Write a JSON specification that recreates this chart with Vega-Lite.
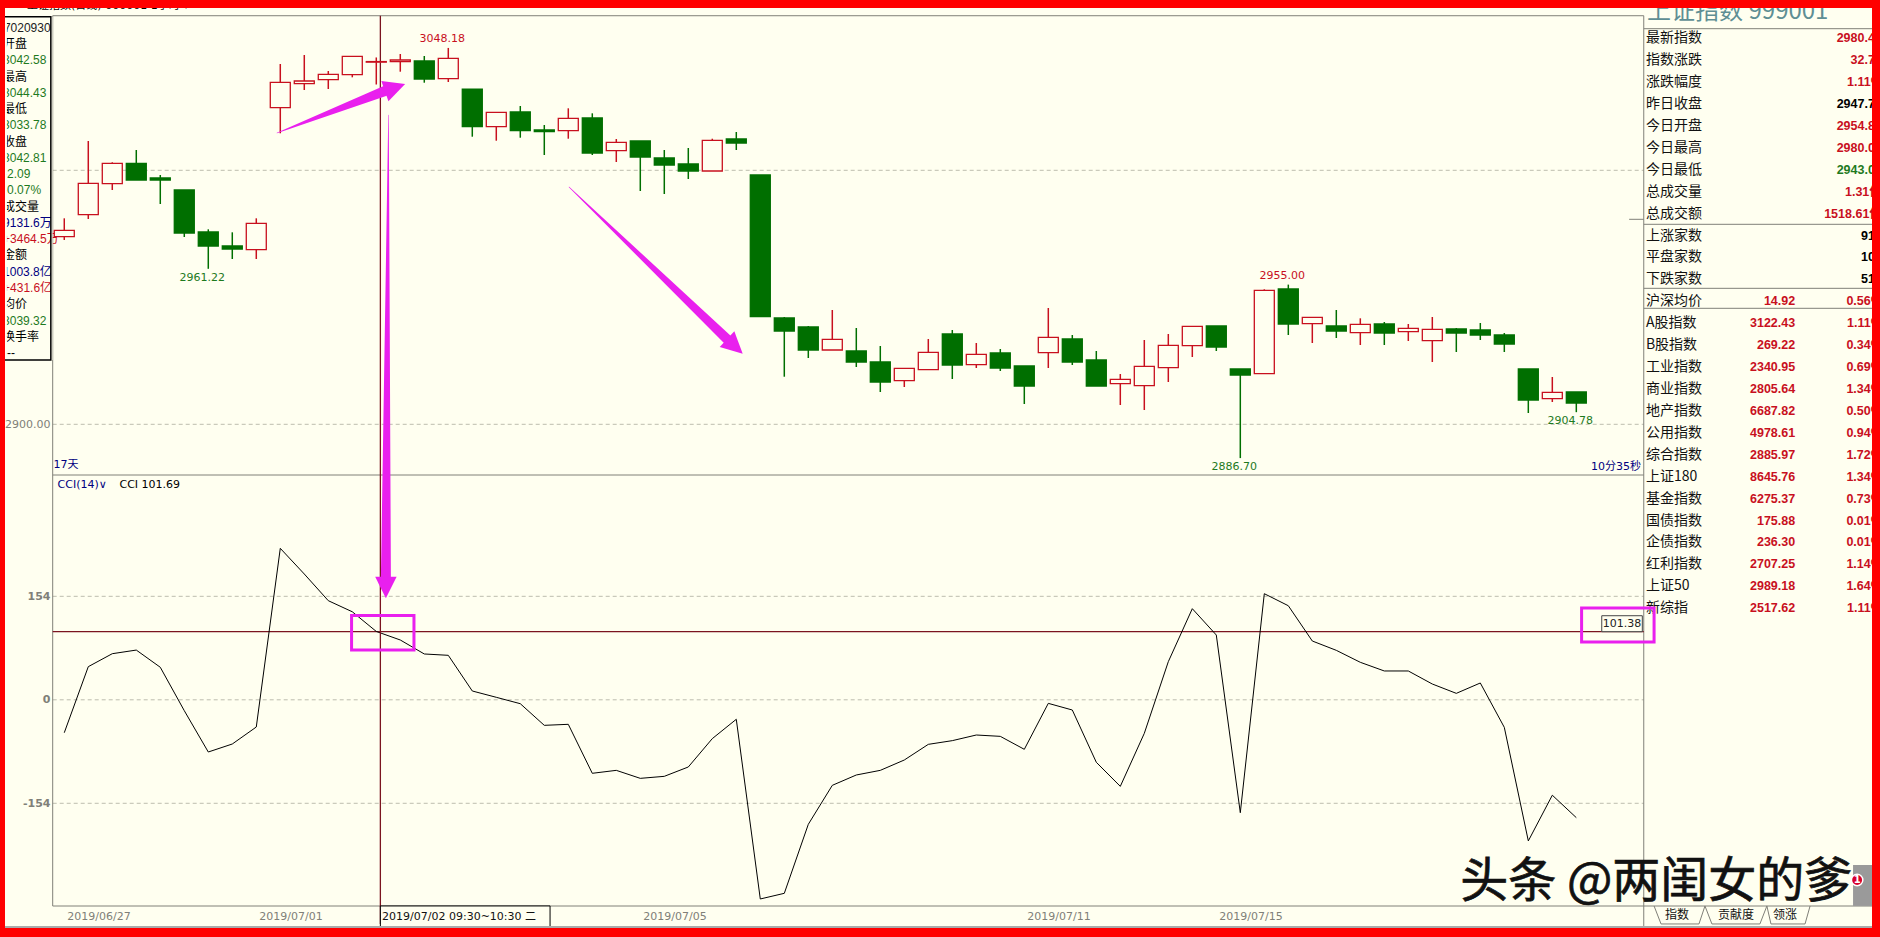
{"$schema":"https://vega.github.io/schema/vega-lite/v6.json","width":1867,"height":920,"autosize":{"type":"none"},"padding":{"left":5,"top":8,"right":8,"bottom":9},"background":"#FF0000","config":{"view":{"fill":"#FFFFF0","stroke":null},"axis":{"title":null},"scale":{"continuousPadding":0}},
"datasets":{"candles":[
{"i":0,"dir":"up","o":2973.86,"c":2976.38,"h":2981.10,"l":2972.56},{"i":1,"dir":"up","o":2982.52,"c":2994.88,"h":3011.54,"l":2980.83},{"i":2,"dir":"up","o":2994.72,"c":3002.76,"h":3003.15,"l":2992.24},{"i":3,"dir":"down","o":3002.76,"c":2996.18,"h":3007.99,"l":2996.18},{"i":4,"dir":"down","o":2996.97,"c":2996.18,"h":2998.15,"l":2986.73},{"i":5,"dir":"down","o":2992.24,"c":2975.31,"h":2992.24,"l":2973.74},{"i":6,"dir":"down","o":2975.71,"c":2970.20,"h":2976.77,"l":2961.22},{"i":7,"dir":"down","o":2970.20,"c":2969.02,"h":2975.59,"l":2965.08},{"i":8,"dir":"up","o":2968.74,"c":2979.13,"h":2981.10,"l":2965.08},{"i":9,"dir":"up","o":3024.64,"c":3034.65,"h":3041.85,"l":3014.57},{"i":10,"dir":"up","o":3034.09,"c":3035.16,"h":3045.39,"l":3031.61},{"i":11,"dir":"up","o":3035.67,"c":3037.80,"h":3039.09,"l":3032.00},{"i":12,"dir":"up","o":3037.64,"c":3044.88,"h":3044.88,"l":3036.61},{"i":13,"dir":"up","o":3042.58,"c":3042.81,"h":3044.43,"l":3033.78},{"i":14,"dir":"up","o":3042.76,"c":3043.42,"h":3045.79,"l":3038.82},{"i":15,"dir":"down","o":3043.03,"c":3035.94,"h":3045.00,"l":3034.49},{"i":16,"dir":"up","o":3036.06,"c":3044.09,"h":3048.18,"l":3034.76},{"i":17,"dir":"down","o":3032.00,"c":3017.16,"h":3032.00,"l":3013.23},{"i":18,"dir":"up","o":3017.16,"c":3022.83,"h":3022.83,"l":3011.65},{"i":19,"dir":"down","o":3022.95,"c":3015.59,"h":3025.31,"l":3012.83},{"i":20,"dir":"down","o":3015.87,"c":3015.20,"h":3017.83,"l":3006.02},{"i":21,"dir":"up","o":3015.59,"c":3020.47,"h":3024.41,"l":3012.44},{"i":22,"dir":"down","o":3020.59,"c":3006.81,"h":3022.44,"l":3006.02},{"i":23,"dir":"up","o":3007.72,"c":3011.02,"h":3012.32,"l":3003.27},{"i":24,"dir":"down","o":3011.54,"c":3005.24,"h":3011.54,"l":2991.85},{"i":25,"dir":"down","o":3004.84,"c":3002.09,"h":3007.99,"l":2990.67},{"i":26,"dir":"down","o":3002.48,"c":2999.72,"h":3008.78,"l":2996.57},{"i":27,"dir":"up","o":2999.72,"c":3011.81,"h":3012.44,"l":2999.72},{"i":28,"dir":"down","o":3012.32,"c":3010.75,"h":3015.08,"l":3007.99},{"i":29,"dir":"down","o":2998.15,"c":2942.36,"h":2998.15,"l":2942.36},{"i":30,"dir":"down","o":2941.85,"c":2936.73,"h":2942.24,"l":2918.74},{"i":31,"dir":"down","o":2938.31,"c":2929.25,"h":2938.70,"l":2926.10},{"i":32,"dir":"up","o":2929.25,"c":2933.46,"h":2945.00,"l":2929.25},{"i":33,"dir":"down","o":2928.86,"c":2924.53,"h":2937.91,"l":2922.56},{"i":34,"dir":"down","o":2924.53,"c":2916.65,"h":2930.83,"l":2912.72},{"i":35,"dir":"up","o":2917.17,"c":2922.05,"h":2922.05,"l":2914.69},{"i":36,"dir":"up","o":2921.50,"c":2928.35,"h":2933.58,"l":2921.50},{"i":37,"dir":"down","o":2935.55,"c":2923.35,"h":2937.13,"l":2917.83},{"i":38,"dir":"up","o":2923.46,"c":2927.56,"h":2932.01,"l":2922.17},{"i":39,"dir":"down","o":2928.07,"c":2922.17,"h":2929.65,"l":2920.98},{"i":40,"dir":"down","o":2922.95,"c":2915.08,"h":2922.95,"l":2907.99},{"i":41,"dir":"up","o":2928.19,"c":2934.25,"h":2945.79,"l":2922.17},{"i":42,"dir":"down","o":2933.58,"c":2924.53,"h":2935.16,"l":2923.35},{"i":43,"dir":"down","o":2925.31,"c":2915.08,"h":2928.86,"l":2915.08},{"i":44,"dir":"up","o":2915.98,"c":2917.72,"h":2919.80,"l":2907.60},{"i":45,"dir":"up","o":2915.20,"c":2922.83,"h":2933.19,"l":2905.63},{"i":46,"dir":"up","o":2922.28,"c":2931.10,"h":2935.55,"l":2916.65},{"i":47,"dir":"up","o":2930.94,"c":2938.58,"h":2938.58,"l":2926.50},{"i":48,"dir":"down","o":2938.70,"c":2930.43,"h":2938.70,"l":2928.86},{"i":49,"dir":"down","o":2921.77,"c":2919.41,"h":2921.77,"l":2886.70},{"i":50,"dir":"up","o":2919.92,"c":2952.76,"h":2953.15,"l":2919.92},{"i":51,"dir":"down","o":2953.27,"c":2939.49,"h":2955.00,"l":2935.16},{"i":52,"dir":"up","o":2939.61,"c":2942.13,"h":2942.13,"l":2932.01},{"i":53,"dir":"down","o":2938.70,"c":2936.73,"h":2945.00,"l":2933.98},{"i":54,"dir":"up","o":2936.06,"c":2939.37,"h":2941.73,"l":2931.22},{"i":55,"dir":"down","o":2939.49,"c":2935.94,"h":2940.28,"l":2931.22},{"i":56,"dir":"up","o":2936.46,"c":2937.80,"h":2939.49,"l":2932.80},{"i":57,"dir":"up","o":2932.91,"c":2937.40,"h":2942.24,"l":2924.53},{"i":58,"dir":"down","o":2937.52,"c":2935.94,"h":2937.91,"l":2928.46},{"i":59,"dir":"down","o":2937.13,"c":2935.16,"h":2939.88,"l":2933.19},{"i":60,"dir":"down","o":2935.16,"c":2931.61,"h":2935.94,"l":2928.46},{"i":61,"dir":"down","o":2921.77,"c":2909.57,"h":2921.77,"l":2904.45},{"i":62,"dir":"up","o":2910.08,"c":2912.60,"h":2918.62,"l":2908.78},{"i":63,"dir":"down","o":2912.72,"c":2908.39,"h":2912.72,"l":2904.78}],
"cci":[{"i":0,"v":-49},{"i":1,"v":49.3},{"i":2,"v":68.6},{"i":3,"v":74},{"i":4,"v":48.4},{"i":5,"v":-16.2},{"i":6,"v":-77.7},{"i":7,"v":-65.8},{"i":8,"v":-40.5},{"i":9,"v":225.4},{"i":10,"v":187.2},{"i":11,"v":147.5},{"i":12,"v":131},{"i":13,"v":101.69},{"i":14,"v":89},{"i":15,"v":68.2},{"i":16,"v":66.2},{"i":17,"v":13.1},{"i":18,"v":3.7},{"i":19,"v":-5.8},{"i":20,"v":-38},{"i":21,"v":-36.5},{"i":22,"v":-109.4},{"i":23,"v":-105},{"i":24,"v":-116.9},{"i":25,"v":-113.9},{"i":26,"v":-100},{"i":27,"v":-57.8},{"i":28,"v":-29},{"i":29,"v":-296.4},{"i":30,"v":-288},{"i":31,"v":-185.3},{"i":32,"v":-127.3},{"i":33,"v":-111.9},{"i":34,"v":-105},{"i":35,"v":-89.6},{"i":36,"v":-66.3},{"i":37,"v":-60.8},{"i":38,"v":-52.4},{"i":39,"v":-54.4},{"i":40,"v":-73.7},{"i":41,"v":-5.3},{"i":42,"v":-15.2},{"i":43,"v":-93},{"i":44,"v":-128.8},{"i":45,"v":-49.9},{"i":46,"v":56.7},{"i":47,"v":135.6},{"i":48,"v":96.4},{"i":49,"v":-168},{"i":50,"v":157.9},{"i":51,"v":140},{"i":52,"v":87.5},{"i":53,"v":73.6},{"i":54,"v":55.8},{"i":55,"v":42.9},{"i":56,"v":42.9},{"i":57,"v":23.5},{"i":58,"v":9.6},{"i":59,"v":25},{"i":60,"v":-41},{"i":61,"v":-210},{"i":62,"v":-142},{"i":63,"v":-175.4}],
"box":[{"row":1,"t":"开盘","tone":"k"},{"row":2,"t":"3042.58","tone":"g"},{"row":3,"t":"最高","tone":"k"},{"row":4,"t":"3044.43","tone":"g"},{"row":5,"t":"最低","tone":"k"},{"row":6,"t":"3033.78","tone":"g"},{"row":7,"t":"收盘","tone":"k"},{"row":8,"t":"3042.81","tone":"g"},{"row":9,"t":"-2.09","tone":"g"},{"row":10,"t":"-0.07%","tone":"g"},{"row":11,"t":"成交量","tone":"k"},{"row":12,"t":"9131.6万","tone":"b"},{"row":13,"t":"+3464.5万","tone":"r"},{"row":14,"t":"金额","tone":"k"},{"row":15,"t":"1003.8亿","tone":"b"},{"row":16,"t":"+431.6亿","tone":"r"},{"row":17,"t":"均价","tone":"k"},{"row":18,"t":"3039.32","tone":"g"},{"row":19,"t":"换手率","tone":"k"},{"row":20,"t":"---","tone":"k"}],
"table":[{"row":0,"name":"最新指数","v3":"2980.47","tone":"r"},{"row":1,"name":"指数涨跌","v3":"32.75","tone":"r"},{"row":2,"name":"涨跌幅度","v3":"1.11%","tone":"r"},{"row":3,"name":"昨日收盘","v3":"2947.71","tone":"k"},{"row":4,"name":"今日开盘","v3":"2954.87","tone":"r"},{"row":5,"name":"今日最高","v3":"2980.01","tone":"r"},{"row":6,"name":"今日最低","v3":"2943.01","tone":"g"},{"row":7,"name":"总成交量","v3":"1.31亿","tone":"r"},{"row":8,"name":"总成交额","v3":"1518.61亿","tone":"r"},{"row":9,"name":"上涨家数","v3":"913","tone":"k"},{"row":10,"name":"平盘家数","v3":"105","tone":"k"},{"row":11,"name":"下跌家数","v3":"519","tone":"k"},{"row":12,"name":"沪深均价","v2":"14.92","v3":"0.56%","tone":"r"},{"row":13,"name":"A股指数","v2":"3122.43","v3":"1.11%","tone":"r"},{"row":14,"name":"B股指数","v2":"269.22","v3":"0.34%","tone":"r"},{"row":15,"name":"工业指数","v2":"2340.95","v3":"0.69%","tone":"r"},{"row":16,"name":"商业指数","v2":"2805.64","v3":"1.34%","tone":"r"},{"row":17,"name":"地产指数","v2":"6687.82","v3":"0.50%","tone":"r"},{"row":18,"name":"公用指数","v2":"4978.61","v3":"0.94%","tone":"r"},{"row":19,"name":"综合指数","v2":"2885.97","v3":"1.72%","tone":"r"},{"row":20,"name":"上证180","v2":"8645.76","v3":"1.34%","tone":"r"},{"row":21,"name":"基金指数","v2":"6275.37","v3":"0.73%","tone":"r"},{"row":22,"name":"国债指数","v2":"175.88","v3":"0.01%","tone":"r"},{"row":23,"name":"企债指数","v2":"236.30","v3":"0.01%","tone":"r"},{"row":24,"name":"红利指数","v2":"2707.25","v3":"1.14%","tone":"r"},{"row":25,"name":"上证50","v2":"2989.18","v3":"1.64%","tone":"r"},{"row":26,"name":"新综指","v2":"2517.62","v3":"1.11%","tone":"r"}],
"shafts":[{"arrow":"a","t":0,"i":8.86,"p":3014.68},{"arrow":"a","t":1,"i":13.36,"p":3031.22},{"arrow":"b","t":0,"i":13.51,"p":3021.77},{"arrow":"b","t":1,"i":13.40,"p":2839.88},{"arrow":"c","t":0,"i":21.03,"p":2993.42},{"arrow":"c","t":1,"i":27.61,"p":2933.58}]},
"layer":[
{"data":{"values":[{"level":3000},{"level":2900}]},"mark":{"type":"rule","color":"#BDBDAE","strokeWidth":1,"strokeDash":[4,3]},"encoding":{"x":{"datum":-0.483,"scale":{"domain":[-2.47,75.32]},"axis":null},"x2":{"datum":65.81},"y":{"field":"level","type":"quantitative","scale":{"domain":[2701.7,3063.9]},"axis":{"orient":"left","offset":-48,"values":[2900],"format":".2f","domain":false,"ticks":false,"grid":false,"labelFont":"DejaVu Sans","labelFontSize":11,"labelColor":"#808078","labelPadding":3}}}},
{"data":{"values":[{"level":154},{"level":0},{"level":-154}]},"mark":{"type":"rule","color":"#BDBDAE","strokeWidth":1,"strokeDash":[4,3]},"encoding":{"x":{"datum":-0.483,"scale":{"domain":[-2.47,75.32]},"axis":null},"x2":{"datum":65.81},"y":{"field":"level","type":"quantitative","scale":{"domain":[-339.6,1029.5]},"axis":{"orient":"left","offset":-48,"values":[154,0,-154],"labelExpr":"''+datum.value","domain":false,"ticks":false,"grid":false,"labelFont":"DejaVu Sans","labelFontSize":11,"labelFontWeight":"bold","labelColor":"#808078","labelPadding":3}}}},
{"data":{"values":[{"level":3060.86,"a":-0.483,"b":65.81},{"level":2880.04,"a":-0.483,"b":65.81},{"level":2710.36,"a":-0.483,"b":75.32},{"level":3055.75,"a":65.81,"b":75.32},{"level":2978.74,"a":65.81,"b":75.32},{"level":2953.54,"a":65.81,"b":75.32},{"level":2945.67,"a":65.81,"b":75.32},{"level":2980.71,"a":65.2,"b":65.81}]},"mark":{"type":"rule","color":"#808078","strokeWidth":1},"encoding":{"x":{"field":"a","type":"quantitative","scale":{"domain":[-2.47,75.32]},"axis":null},"x2":{"field":"b"},"y":{"field":"level","type":"quantitative","scale":{"domain":[2701.7,3063.9]},"axis":null}}},
{"data":{"values":[{"i":-0.483,"a":3060.86,"b":2710.36},{"i":65.81,"a":3060.86,"b":2702.5}]},"mark":{"type":"rule","color":"#808078","strokeWidth":1},"encoding":{"x":{"field":"i","type":"quantitative","scale":{"domain":[-2.47,75.32]},"axis":null},"y":{"field":"a","type":"quantitative","scale":{"domain":[2701.7,3063.9]},"axis":null},"y2":{"field":"b"}}},
{"data":{"name":"box"},"mark":{"type":"text","align":"left","baseline":"middle","font":"Liberation Sans, Noto Sans CJK SC","fontSize":12,"clip":true},"encoding":{"x":{"datum":-2.55,"scale":{"domain":[-2.47,75.32]},"axis":null},"y":{"field":"row","type":"quantitative","scale":{"domain":[55.34,-1.211]},"axis":null},"text":{"field":"t"},"color":{"field":"tone","type":"nominal","scale":{"domain":["k","r","g","b"],"range":["#000000","#C8101E","#1E7A1E","#000080"]},"legend":null}}},
{"data":{"values":[{"row":0,"t":"07020930"}]},"mark":{"type":"text","align":"right","baseline":"middle","font":"Liberation Sans","fontSize":12,"color":"#222222","clip":true},"encoding":{"x":{"datum":-0.57,"scale":{"domain":[-2.47,75.32]},"axis":null},"y":{"field":"row","type":"quantitative","scale":{"domain":[55.34,-1.211]},"axis":null},"text":{"field":"t"}}},
{"data":{"values":[{"a":-0.554,"b":-0.49,"top":3060.5,"bottom":2925.3},{"a":-2.47,"b":-2.39,"top":3060.5,"bottom":2925.3}]},"mark":{"type":"rect","color":"#FFFFF0"},"encoding":{"x":{"field":"a","type":"quantitative","scale":{"domain":[-2.47,75.32]},"axis":null},"x2":{"field":"b"},"y":{"field":"top","type":"quantitative","scale":{"domain":[2701.7,3063.9]},"axis":null},"y2":{"field":"bottom"}}},
{"data":{"values":[{"a":-2.7,"b":-0.56,"top":3060.5,"bottom":2925.3}]},"mark":{"type":"rect","fill":"transparent","stroke":"#000000","strokeWidth":1.5,"clip":true},"encoding":{"x":{"field":"a","type":"quantitative","scale":{"domain":[-2.47,75.32]},"axis":null},"x2":{"field":"b"},"y":{"field":"top","type":"quantitative","scale":{"domain":[2701.7,3063.9]},"axis":null},"y2":{"field":"bottom"}}},
{"data":{"values":[{"level":101.38}]},"mark":{"type":"rule","color":"#7B1420","strokeWidth":1.3},"encoding":{"x":{"datum":-0.483,"scale":{"domain":[-2.47,75.32]},"axis":null},"x2":{"datum":65.81},"y":{"field":"level","type":"quantitative","scale":{"domain":[-339.6,1029.5]},"axis":null}}},
{"data":{"name":"cci"},"mark":{"type":"line","color":"#000000","strokeWidth":1},"encoding":{"x":{"field":"i","type":"quantitative","scale":{"domain":[-2.47,75.32]},"axis":null},"y":{"field":"v","type":"quantitative","scale":{"domain":[-339.6,1029.5]},"axis":null}}},
{"data":{"values":[{"i":0,"v":-322.8,"t":"2019/06/27"},{"i":8,"v":-322.8,"t":"2019/07/01"},{"i":24,"v":-322.8,"t":"2019/07/05"},{"i":40,"v":-322.8,"t":"2019/07/11"},{"i":48,"v":-322.8,"t":"2019/07/15"}]},"mark":{"type":"text","align":"left","baseline":"middle","dx":3,"font":"DejaVu Sans","fontSize":11,"color":"#808078"},"encoding":{"x":{"field":"i","type":"quantitative","scale":{"domain":[-2.47,75.32]},"axis":null},"y":{"field":"v","type":"quantitative","scale":{"domain":[-339.6,1029.5]},"axis":null},"text":{"field":"t"}}},
{"data":{"values":[{"i":13.17,"a":3060.86,"b":2703.27}]},"mark":{"type":"rule","color":"#7B1420","strokeWidth":1.3},"encoding":{"x":{"field":"i","type":"quantitative","scale":{"domain":[-2.47,75.32]},"axis":null},"y":{"field":"a","type":"quantitative","scale":{"domain":[2701.7,3063.9]},"axis":null},"y2":{"field":"b"}}},
{"data":{"name":"candles"},"mark":{"type":"rule","strokeWidth":1.5},"encoding":{"x":{"field":"i","type":"quantitative","scale":{"domain":[-2.47,75.32]},"axis":null},"y":{"field":"h","type":"quantitative","scale":{"domain":[2701.7,3063.9]},"axis":null},"y2":{"field":"l"},"color":{"field":"dir","type":"nominal","scale":{"domain":["up","down"],"range":["#C8101E","#006F00"]},"legend":null}}},
{"data":{"name":"candles"},"mark":{"type":"bar","orient":"vertical","size":20,"strokeWidth":1.3},"encoding":{"x":{"field":"i","type":"quantitative","scale":{"domain":[-2.47,75.32],"padding":0},"axis":null},"y":{"field":"o","type":"quantitative","scale":{"domain":[2701.7,3063.9]},"axis":null},"y2":{"field":"c"},"fill":{"field":"dir","type":"nominal","scale":{"domain":["up","down"],"range":["#FFFFF0","#006F00"]},"legend":null},"stroke":{"field":"dir","type":"nominal","scale":{"domain":["up","down"],"range":["#C8101E","#006F00"]},"legend":null}}},
{"data":{"values":[{"i":16,"h":3048.18},{"i":51,"h":2955.00}]},"mark":{"type":"text","dx":-6,"dy":-8.5,"baseline":"middle","align":"center","font":"DejaVu Sans","fontSize":11,"color":"#C8101E"},"encoding":{"x":{"field":"i","type":"quantitative","scale":{"domain":[-2.47,75.32]},"axis":null},"y":{"field":"h","type":"quantitative","scale":{"domain":[2701.7,3063.9]},"axis":null},"text":{"field":"h","format":".2f"}}},
{"data":{"values":[{"i":6,"l":2961.22},{"i":49,"l":2886.70},{"i":63,"l":2904.78}]},"mark":{"type":"text","dx":-6,"dy":9.3,"baseline":"middle","align":"center","font":"DejaVu Sans","fontSize":11,"color":"#1E7A1E"},"encoding":{"x":{"field":"i","type":"quantitative","scale":{"domain":[-2.47,75.32]},"axis":null},"y":{"field":"l","type":"quantitative","scale":{"domain":[2701.7,3063.9]},"axis":null},"text":{"field":"l","format":".2f"}}},
{"data":{"values":[{"a":13.17,"b":20.24,"top":-306.8,"bottom":-339.6}]},"mark":{"type":"rect","fill":"#FFFFF0","stroke":"#000000","strokeWidth":1,"clip":true},"encoding":{"x":{"field":"a","type":"quantitative","scale":{"domain":[-2.47,75.32]},"axis":null},"x2":{"field":"b"},"y":{"field":"top","type":"quantitative","scale":{"domain":[-339.6,1029.5]},"axis":null},"y2":{"field":"bottom"}}},
{"data":{"values":[{"i":13.24,"v":-322.8,"t":"2019/07/02 09:30~10:30 二"}]},"mark":{"type":"text","align":"left","baseline":"middle","font":"DejaVu Sans, Noto Sans CJK SC","fontSize":11,"color":"#111111"},"encoding":{"x":{"field":"i","type":"quantitative","scale":{"domain":[-2.47,75.32]},"axis":null},"y":{"field":"v","type":"quantitative","scale":{"domain":[-339.6,1029.5]},"axis":null},"text":{"field":"t"}}},
{"data":{"values":[{"i":-1.55,"p":3064.7,"t":"上证指数(日线) 000001 1小时 ▾","tone":"k"},{"i":-0.45,"p":2883.98,"t":"17天","tone":"b"},{"i":-0.28,"p":2876.22,"t":"CCI(14)∨","tone":"b"},{"i":2.3,"p":2876.22,"t":"CCI 101.69","tone":"k"}]},"mark":{"type":"text","align":"left","baseline":"middle","font":"DejaVu Sans, Noto Sans CJK SC","fontSize":11,"clip":true},"encoding":{"x":{"field":"i","type":"quantitative","scale":{"domain":[-2.47,75.32]},"axis":null},"y":{"field":"p","type":"quantitative","scale":{"domain":[2701.7,3063.9]},"axis":null},"text":{"field":"t"},"color":{"field":"tone","type":"nominal","scale":{"domain":["k","b"],"range":["#000000","#000080"]},"legend":null}}},
{"data":{"values":[{"i":65.7,"p":2883.31,"t":"10分35秒"}]},"mark":{"type":"text","align":"right","baseline":"middle","font":"DejaVu Sans, Noto Sans CJK SC","fontSize":11,"color":"#000080"},"encoding":{"x":{"field":"i","type":"quantitative","scale":{"domain":[-2.47,75.32]},"axis":null},"y":{"field":"p","type":"quantitative","scale":{"domain":[2701.7,3063.9]},"axis":null},"text":{"field":"t"}}},
{"data":{"values":[{"i":65.95,"p":3062.3,"t":"上证指数 999001"}]},"mark":{"type":"text","align":"left","baseline":"middle","font":"Noto Sans CJK SC","fontSize":24,"color":"#5F8F94","clip":true},"encoding":{"x":{"field":"i","type":"quantitative","scale":{"domain":[-2.47,75.32]},"axis":null},"y":{"field":"p","type":"quantitative","scale":{"domain":[2701.7,3063.9]},"axis":null},"text":{"field":"t"}}},
{"data":{"name":"table"},"mark":{"type":"text","align":"left","baseline":"middle","font":"Noto Sans CJK SC","fontSize":14,"color":"#111111"},"encoding":{"x":{"datum":65.9,"scale":{"domain":[-2.47,75.32]},"axis":null},"y":{"field":"row","type":"quantitative","scale":{"domain":[40.59,-1.382]},"axis":null},"text":{"field":"name"}}},
{"data":{"name":"table"},"transform":[{"filter":"isValid(datum.v2)"}],"mark":{"type":"text","align":"right","baseline":"middle","font":"Liberation Sans","fontWeight":"bold","fontSize":12.5,"color":"#C8101E"},"encoding":{"x":{"datum":72.12,"scale":{"domain":[-2.47,75.32]},"axis":null},"y":{"field":"row","type":"quantitative","scale":{"domain":[40.59,-1.382]},"axis":null},"text":{"field":"v2"}}},
{"data":{"name":"table"},"mark":{"type":"text","align":"right","baseline":"middle","font":"Liberation Sans, Noto Sans CJK SC","fontWeight":"bold","fontSize":12.5,"clip":true},"encoding":{"x":{"datum":75.73,"scale":{"domain":[-2.47,75.32]},"axis":null},"y":{"field":"row","type":"quantitative","scale":{"domain":[40.59,-1.382]},"axis":null},"text":{"field":"v3"},"color":{"field":"tone","type":"nominal","scale":{"domain":["k","r","g"],"range":["#000000","#C8101E","#1E7A1E"]},"legend":null}}},
{"data":{"values":[{"tab":1,"s":0,"i":66.24,"v":-306.8},{"tab":1,"s":1,"i":66.53,"v":-333.6},{"tab":1,"s":2,"i":68.11,"v":-333.6},{"tab":1,"s":3,"i":68.36,"v":-306.8},{"tab":2,"s":0,"i":68.36,"v":-306.8},{"tab":2,"s":1,"i":68.65,"v":-333.6},{"tab":2,"s":2,"i":70.65,"v":-333.6},{"tab":2,"s":3,"i":70.94,"v":-306.8},{"tab":3,"s":0,"i":70.94,"v":-306.8},{"tab":3,"s":1,"i":71.11,"v":-333.6},{"tab":3,"s":2,"i":72.53,"v":-333.6},{"tab":3,"s":3,"i":72.74,"v":-306.8}]},"mark":{"type":"line","color":"#808078","strokeWidth":1},"encoding":{"x":{"field":"i","type":"quantitative","scale":{"domain":[-2.47,75.32]},"axis":null},"y":{"field":"v","type":"quantitative","scale":{"domain":[-339.6,1029.5]},"axis":null},"detail":{"field":"tab"},"order":{"field":"s"}}},
{"data":{"values":[{"i":67.2,"v":-320,"t":"指数"},{"i":69.65,"v":-320,"t":"贡献度"},{"i":71.7,"v":-320,"t":"领涨"}]},"mark":{"type":"text","align":"center","baseline":"middle","font":"Noto Sans CJK SC","fontSize":12,"color":"#111111"},"encoding":{"x":{"field":"i","type":"quantitative","scale":{"domain":[-2.47,75.32]},"axis":null},"y":{"field":"v","type":"quantitative","scale":{"domain":[-339.6,1029.5]},"axis":null},"text":{"field":"t"}}},
{"data":{"values":[{"a":74.53,"b":75.32,"top":-245.8,"bottom":-306.8}]},"mark":{"type":"rect","color":"#9A9A9A"},"encoding":{"x":{"field":"a","type":"quantitative","scale":{"domain":[-2.47,75.32]},"axis":null},"x2":{"field":"b"},"y":{"field":"top","type":"quantitative","scale":{"domain":[-339.6,1029.5]},"axis":null},"y2":{"field":"bottom"}}},
{"data":{"values":[{"a":-2.47,"b":75.32,"top":2702.5,"bottom":2701.7}]},"mark":{"type":"rect","color":"#AAAAAA"},"encoding":{"x":{"field":"a","type":"quantitative","scale":{"domain":[-2.47,75.32]},"axis":null},"x2":{"field":"b"},"y":{"field":"top","type":"quantitative","scale":{"domain":[2701.7,3063.9]},"axis":null},"y2":{"field":"bottom"}}},
{"data":{"values":[{"i":58.16,"v":-272.6,"t":"头条 @两闺女的爹"}]},"mark":{"type":"text","align":"left","baseline":"middle","font":"Noto Sans CJK SC","fontSize":48,"color":"#111111","stroke":"#111111","strokeWidth":0.7},"encoding":{"x":{"field":"i","type":"quantitative","scale":{"domain":[-2.47,75.32]},"axis":null},"y":{"field":"v","type":"quantitative","scale":{"domain":[-339.6,1029.5]},"axis":null},"text":{"field":"t"}}},
{"data":{"values":[{"i":74.7,"v":-268.2}]},"mark":{"type":"point","filled":true,"shape":"circle","size":130,"fill":"#D8002A","stroke":"#FFFFFF","strokeWidth":1.5,"opacity":1},"encoding":{"x":{"field":"i","type":"quantitative","scale":{"domain":[-2.47,75.32]},"axis":null},"y":{"field":"v","type":"quantitative","scale":{"domain":[-339.6,1029.5]},"axis":null}}},
{"data":{"values":[{"i":74.7,"v":-268.2,"t":"1"}]},"mark":{"type":"text","align":"center","baseline":"middle","font":"DejaVu Sans","fontWeight":"bold","fontSize":10,"color":"#FFFFFF"},"encoding":{"x":{"field":"i","type":"quantitative","scale":{"domain":[-2.47,75.32]},"axis":null},"y":{"field":"v","type":"quantitative","scale":{"domain":[-339.6,1029.5]},"axis":null},"text":{"field":"t"}}},
{"data":{"values":[{"a":64.06,"b":65.75,"top":125.1,"bottom":101.38}]},"mark":{"type":"rect","fill":"#FFFFF0","stroke":"#444444","strokeWidth":1},"encoding":{"x":{"field":"a","type":"quantitative","scale":{"domain":[-2.47,75.32]},"axis":null},"x2":{"field":"b"},"y":{"field":"top","type":"quantitative","scale":{"domain":[-339.6,1029.5]},"axis":null},"y2":{"field":"bottom"}}},
{"data":{"values":[{"i":64.9,"v":113.3,"t":"101.38"}]},"mark":{"type":"text","align":"center","baseline":"middle","font":"DejaVu Sans","fontSize":11,"color":"#222222"},"encoding":{"x":{"field":"i","type":"quantitative","scale":{"domain":[-2.47,75.32]},"axis":null},"y":{"field":"v","type":"quantitative","scale":{"domain":[-339.6,1029.5]},"axis":null},"text":{"field":"t"}}},
{"data":{"values":[{"a":11.97,"b":14.57,"top":125.4,"bottom":74.1},{"a":63.22,"b":66.24,"top":136.6,"bottom":86}]},"mark":{"type":"rect","fill":"transparent","stroke":"#E920EE","strokeWidth":3},"encoding":{"x":{"field":"a","type":"quantitative","scale":{"domain":[-2.47,75.32]},"axis":null},"x2":{"field":"b"},"y":{"field":"top","type":"quantitative","scale":{"domain":[-339.6,1029.5]},"axis":null},"y2":{"field":"bottom"}}},
{"data":{"name":"shafts"},"mark":{"type":"trail","color":"#E920EE"},"encoding":{"x":{"field":"i","type":"quantitative","scale":{"domain":[-2.47,75.32]},"axis":null},"y":{"field":"p","type":"quantitative","scale":{"domain":[2701.7,3063.9]},"axis":null},"detail":{"field":"arrow"},"size":{"field":"t","type":"quantitative","scale":{"domain":[0,1],"range":[0.5,10]},"legend":null}}},
{"data":{"values":[{"i":13.78,"p":3032.6}]},"mark":{"type":"point","filled":true,"shape":"M0,-1L1,1L-1,1Z","size":460,"angle":70.7,"color":"#E920EE","opacity":1},"encoding":{"x":{"field":"i","type":"quantitative","scale":{"domain":[-2.47,75.32]},"axis":null},"y":{"field":"p","type":"quantitative","scale":{"domain":[2701.7,3063.9]},"axis":null}}},
{"data":{"values":[{"i":13.40,"p":2835.75}]},"mark":{"type":"point","filled":true,"shape":"M0,-1L1,1L-1,1Z","size":460,"angle":180,"color":"#E920EE","opacity":1},"encoding":{"x":{"field":"i","type":"quantitative","scale":{"domain":[-2.47,75.32]},"axis":null},"y":{"field":"p","type":"quantitative","scale":{"domain":[2701.7,3063.9]},"axis":null}}},
{"data":{"values":[{"i":27.94,"p":2930.63}]},"mark":{"type":"point","filled":true,"shape":"M0,-1L1,1L-1,1Z","size":460,"angle":133,"color":"#E920EE","opacity":1},"encoding":{"x":{"field":"i","type":"quantitative","scale":{"domain":[-2.47,75.32]},"axis":null},"y":{"field":"p","type":"quantitative","scale":{"domain":[2701.7,3063.9]},"axis":null}}}
],
"resolve":{"scale":{"y":"independent","color":"independent","fill":"independent","stroke":"independent","size":"independent"},"axis":{"y":"independent"}}}
